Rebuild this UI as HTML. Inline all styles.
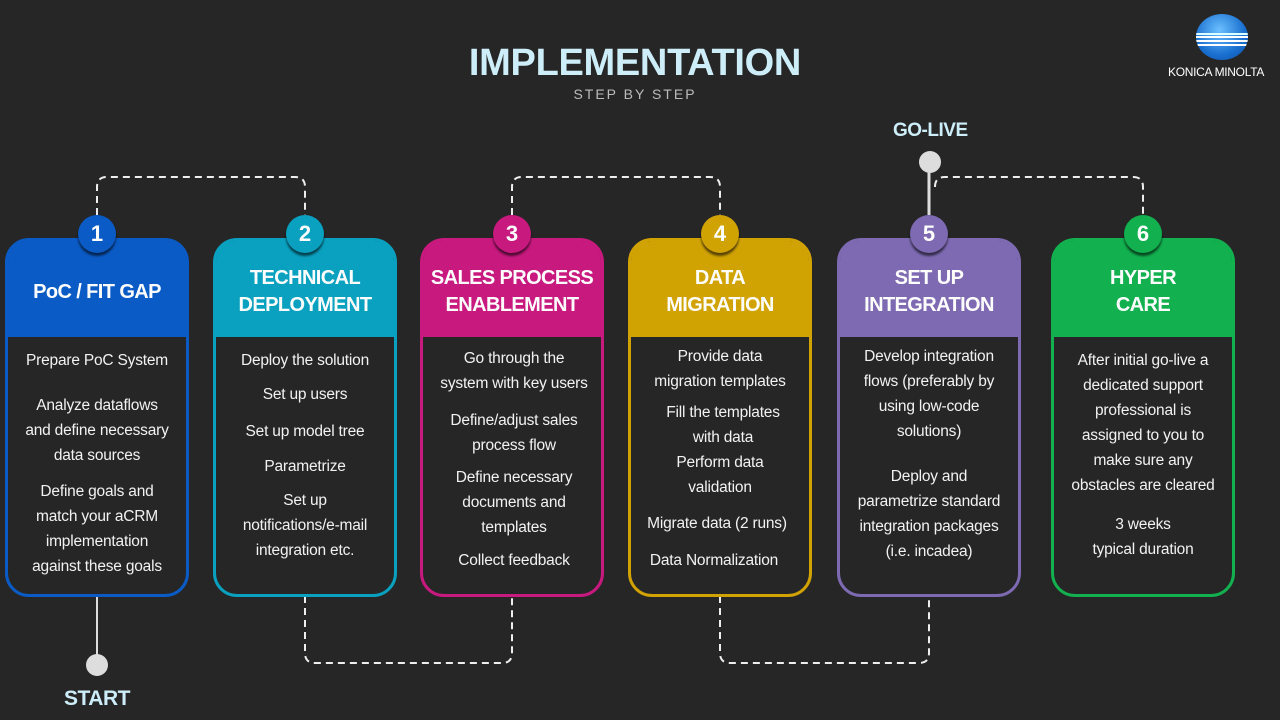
<!DOCTYPE html>
<html><head><meta charset="utf-8"><style>
body{margin:0;width:1280px;height:720px;background:#262626;overflow:hidden;position:relative;font-family:"Liberation Sans",sans-serif;color:#fff}
.card{position:absolute;top:238px;width:178px;height:353px;border:3px solid;border-radius:24px;box-sizing:content-box}
.hd{position:absolute;left:0;top:0;right:0;height:96px;border-radius:20px 20px 0 0;display:flex;align-items:center;justify-content:center;text-align:center;font-weight:bold;font-size:20px;line-height:27px;letter-spacing:-0.6px;padding-top:6px;box-sizing:border-box;white-space:nowrap}
.num{position:absolute;width:38px;height:38px;border-radius:50%;top:215px;text-align:center;line-height:38px;font-weight:bold;font-size:22px;box-shadow:0 3px 2px rgba(0,0,0,.6)}
.t{position:absolute;width:184px;text-align:center;font-size:15.5px;line-height:25px;color:#f2f2f2;letter-spacing:-0.2px}
.dot{position:absolute;width:22px;height:22px;border-radius:50%;background:#ddd}
</style></head><body>
<div style="position:absolute;left:0;width:1270px;top:42px;text-align:center;font-size:38px;font-weight:bold;color:#cdeef8;letter-spacing:-0.3px">IMPLEMENTATION</div>
<div style="position:absolute;left:0;width:1270px;top:86px;text-align:center;font-size:14px;color:#bbb;letter-spacing:2px">STEP BY STEP</div>
<div style="position:absolute;left:1196px;top:14px;width:52px;height:46px;border-radius:50%;background:radial-gradient(circle at 45% 35%,#6cc0ff,#1a70d0 60%,#0a4aa0);overflow:hidden"><div style="position:absolute;left:0;right:0;top:22px;height:2px;background:#fff;box-shadow:0 4px 0 #fff,0 8px 0 #fff,0 -3px 0 #dff"></div></div>
<div style="position:absolute;left:1168px;top:65px;font-size:12px;color:#fff;letter-spacing:-0.3px">KONICA MINOLTA</div>

<svg width="1280" height="720" style="position:absolute;left:0;top:0">
<g fill="none" stroke="#eee" stroke-width="2" stroke-dasharray="7,5">
<path d="M97 215 V187 Q97 177 107 177 H295 Q305 177 305 187 V215"/>
<path d="M512 215 V187 Q512 177 522 177 H710 Q720 177 720 187 V215"/>
<path d="M935 187 Q935 177 945 177 H1133 Q1143 177 1143 187 V215"/>
<path d="M305 596 V653 Q305 663 315 663 H502 Q512 663 512 653 V596"/>
<path d="M720 596 V653 Q720 663 730 663 H919 Q929 663 929 653 V596"/>
</g>
<line x1="97" y1="596" x2="97" y2="660" stroke="#ddd" stroke-width="2"/>
<line x1="929" y1="170" x2="929" y2="215" stroke="#ddd" stroke-width="3"/>
</svg>
<div class="dot" style="left:86px;top:654px"></div>
<div class="dot" style="left:919px;top:151px"></div>
<div style="position:absolute;left:64px;top:687px;font-size:21px;font-weight:bold;color:#cdeef8;letter-spacing:-0.5px">START</div>
<div style="position:absolute;left:893px;top:120px;font-size:19px;font-weight:bold;color:#cdeef8;letter-spacing:-0.5px">GO-LIVE</div>

<div class="card" style="left:5px;border-color:#0b5bc6"><div class="hd" style="background:#0b5bc6">PoC / FIT GAP</div></div>
<div class="card" style="left:213px;border-color:#0aa1c0"><div class="hd" style="background:#0aa1c0">TECHNICAL<br>DEPLOYMENT</div></div>
<div class="card" style="left:420px;border-color:#c8197f"><div class="hd" style="background:#c8197f">SALES PROCESS<br>ENABLEMENT</div></div>
<div class="card" style="left:628px;border-color:#d1a302"><div class="hd" style="background:#d1a302">DATA<br>MIGRATION</div></div>
<div class="card" style="left:837px;border-color:#7d6ab2"><div class="hd" style="background:#7d6ab2">SET UP<br>INTEGRATION</div></div>
<div class="card" style="left:1051px;border-color:#12b04f"><div class="hd" style="background:#12b04f">HYPER<br>CARE</div></div>

<div class="num" style="left:78px;background:#0b5bc6">1</div>
<div class="num" style="left:286px;background:#0aa1c0">2</div>
<div class="num" style="left:493px;background:#c8197f">3</div>
<div class="num" style="left:701px;background:#d1a302">4</div>
<div class="num" style="left:910px;background:#7d6ab2">5</div>
<div class="num" style="left:1124px;background:#12b04f">6</div>

<div class="t" style="left:5px;top:348px">Prepare PoC System</div>
<div class="t" style="left:5px;top:393px">Analyze dataflows<br>and define necessary<br>data sources</div>
<div class="t" style="left:5px;top:479px">Define goals and<br>match your aCRM<br>implementation<br>against these goals</div>

<div class="t" style="left:213px;top:348px">Deploy the solution</div>
<div class="t" style="left:213px;top:382px">Set up users</div>
<div class="t" style="left:213px;top:419px">Set up model tree</div>
<div class="t" style="left:213px;top:454px">Parametrize</div>
<div class="t" style="left:213px;top:488px">Set up<br>notifications/e-mail<br>integration etc.</div>

<div class="t" style="left:422px;top:346px">Go through the<br>system with key users</div>
<div class="t" style="left:422px;top:408px">Define/adjust sales<br>process flow</div>
<div class="t" style="left:422px;top:465px">Define necessary<br>documents and<br>templates</div>
<div class="t" style="left:422px;top:548px">Collect feedback</div>

<div class="t" style="left:628px;top:344px">Provide data<br>migration templates</div>
<div class="t" style="left:631px;top:400px">Fill the templates<br>with data</div>
<div class="t" style="left:628px;top:450px">Perform data<br>validation</div>
<div class="t" style="left:625px;top:511px">Migrate data (2 runs)</div>
<div class="t" style="left:622px;top:548px">Data Normalization</div>

<div class="t" style="left:837px;top:344px">Develop integration<br>flows (preferably by<br>using low-code<br>solutions)</div>
<div class="t" style="left:837px;top:464px">Deploy and<br>parametrize standard<br>integration packages<br>(i.e. incadea)</div>

<div class="t" style="left:1051px;top:348px">After initial go-live a<br>dedicated support<br>professional is<br>assigned to you to<br>make sure any<br>obstacles are cleared</div>
<div class="t" style="left:1051px;top:512px">3 weeks<br>typical duration</div>
</body></html>
